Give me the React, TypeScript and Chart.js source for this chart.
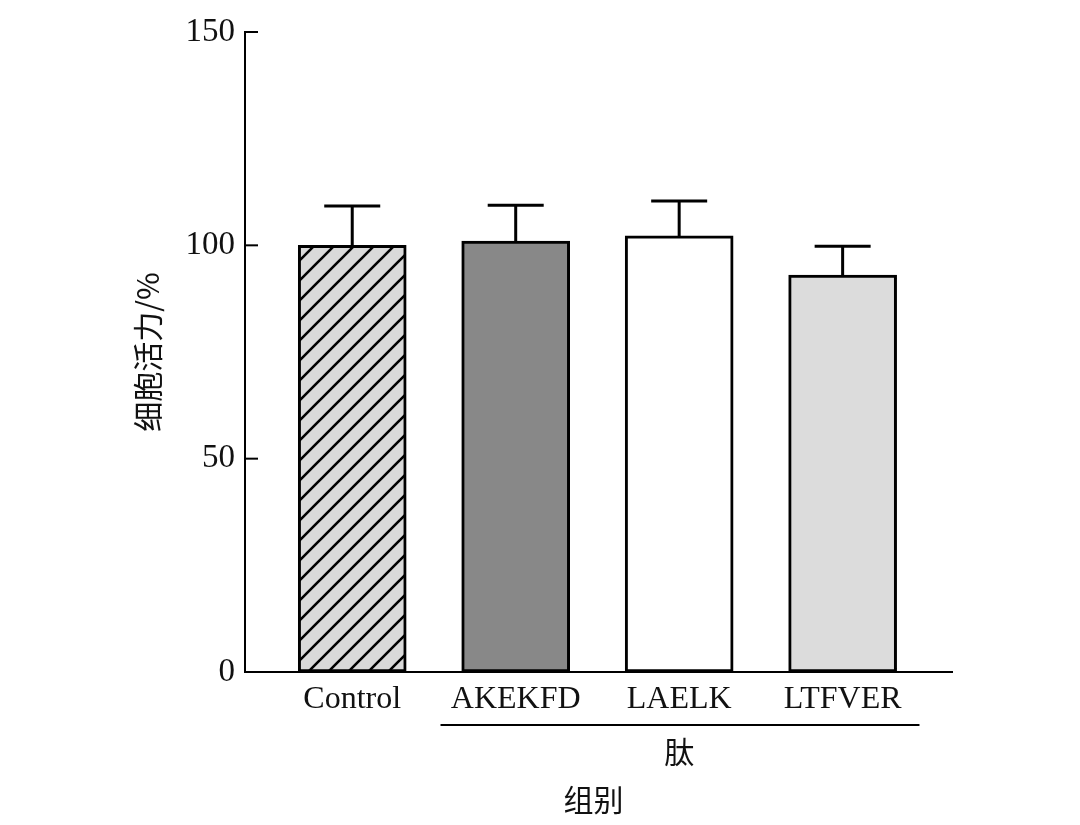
import React, { useEffect, useRef } from "react";
import { Chart, registerables } from "chart.js";

Chart.register(...registerables);

const categories = ["Control", "AKEKFD", "LAELK", "LTFVER"];
const means = [100, 101, 102.2, 93];
const errors = [9.2, 8.4, 8.2, 6.8];
const yTicks = [0, 50, 100, 150];
const fills = ["hatch", "#888888", "#ffffff", "#dcdcdc"];
const yTitle = "细胞活力/%";
const xTitle = "组别";
const groupLabel = "肽";

const SERIF = "'Liberation Serif', 'DejaVu Serif', serif";
const CJK = "'Noto Sans CJK SC', sans-serif";

function makeHatch(): CanvasPattern | string {
  const c = document.createElement("canvas");
  const s = 20;
  c.width = s;
  c.height = s;
  const g = c.getContext("2d");
  if (!g) return "#d9d9d9";
  g.fillStyle = "#d9d9d9";
  g.fillRect(0, 0, s, s);
  g.strokeStyle = "#000";
  g.lineWidth = 2.6;
  g.beginPath();
  g.moveTo(-2, s + 2);
  g.lineTo(s + 2, -2);
  g.moveTo(-s / 2 - 2, s / 2 + 2);
  g.lineTo(s / 2 + 2, -s / 2 - 2);
  g.moveTo(s / 2 - 2, s * 1.5 + 2);
  g.lineTo(s * 1.5 + 2, s / 2 - 2);
  g.stroke();
  const p = g.createPattern(c, "repeat");
  return p || "#d9d9d9";
}

const decorPlugin = {
  id: "decor",
  afterDatasetsDraw(chart: any) {
    const ctx = chart.ctx;
    const xs = chart.scales.x;
    const ys = chart.scales.y;
    const area = chart.chartArea;
    ctx.save();
    // error bars
    ctx.strokeStyle = "#000";
    ctx.lineWidth = 3;
    means.forEach((m, i) => {
      const x = xs.getPixelForValue(i);
      const yb = ys.getPixelForValue(m);
      const yt = ys.getPixelForValue(m + errors[i]);
      ctx.beginPath();
      ctx.moveTo(x, yb);
      ctx.lineTo(x, yt);
      ctx.moveTo(x - 28, yt);
      ctx.lineTo(x + 28, yt);
      ctx.stroke();
    });
    // inward y ticks
    ctx.lineWidth = 2;
    yTicks.forEach((t) => {
      const y = ys.getPixelForValue(t);
      ctx.beginPath();
      ctx.moveTo(area.left, y);
      ctx.lineTo(area.left + 13, y);
      ctx.stroke();
    });
    // group bracket
    const lineY = area.bottom + 53;
    ctx.lineWidth = 2;
    ctx.beginPath();
    ctx.moveTo(xs.getPixelForValue(0.54), lineY);
    ctx.lineTo(xs.getPixelForValue(3.47), lineY);
    ctx.stroke();
    ctx.fillStyle = "#111";
    ctx.textAlign = "center";
    ctx.textBaseline = "middle";
    ctx.font = `30px ${CJK}`;
    ctx.fillText(groupLabel, xs.getPixelForValue(2), area.bottom + 80);
    ctx.fillText(xTitle, (area.left + area.right) / 2 - 5, area.bottom + 128);
    // y title
    ctx.translate(148, (area.top + area.bottom) / 2);
    ctx.rotate(-Math.PI / 2);
    ctx.fillText(yTitle, 0, 0);
    ctx.restore();
  },
};

export default function App() {
  const ref = useRef<HTMLCanvasElement>(null);
  useEffect(() => {
    if (!ref.current) return;
    const hatch = makeHatch();
    const chart = new Chart(ref.current, {
      type: "bar",
      data: {
        datasets: [
          {
            data: means.map((v, i) => ({ x: i, y: v })),
            backgroundColor: fills.map((f) => (f === "hatch" ? hatch : f)) as any,
            borderColor: "#000",
            borderWidth: 3,
            borderSkipped: false,
            barThickness: 108,
          },
        ],
      },
      options: {
        responsive: false,
        animation: false,
        devicePixelRatio: 1,
        layout: { padding: { top: 32, right: 128, left: 0, bottom: 0 } },
        plugins: { legend: { display: false }, tooltip: { enabled: false } },
        scales: {
          x: {
            type: "linear",
            offset: false,
            min: -0.656,
            max: 3.669,
            grid: { display: false, drawTicks: false, offset: false },
            border: { display: true, color: "#000", width: 2 },
            ticks: {
              stepSize: 1,
              includeBounds: false,
              autoSkip: false,
              maxRotation: 0,
              color: "#111",
              font: { family: SERIF, size: 32 },
              padding: 8,
              callback: (v: any) =>
                Number.isInteger(v) && categories[v] !== undefined ? categories[v] : "",
            },
            afterFit: (s: any) => {
              s.height = 153;
            },
          },
          y: {
            min: 0,
            max: 150,
            grid: { display: false, drawTicks: false },
            border: { display: true, color: "#000", width: 2 },
            ticks: {
              stepSize: 50,
              color: "#111",
              font: { family: SERIF, size: 33 },
              padding: 10,
            },
            afterFit: (s: any) => {
              s.width = 245;
            },
          },
        },
      },
      plugins: [decorPlugin],
    } as any);
    return () => chart.destroy();
  }, []);
  return (
    <div style={{ position: "fixed", left: 0, top: 0, width: 1080, height: 825, background: "#fff" }}>
      <canvas ref={ref} width={1080} height={825} />
    </div>
  );
}
